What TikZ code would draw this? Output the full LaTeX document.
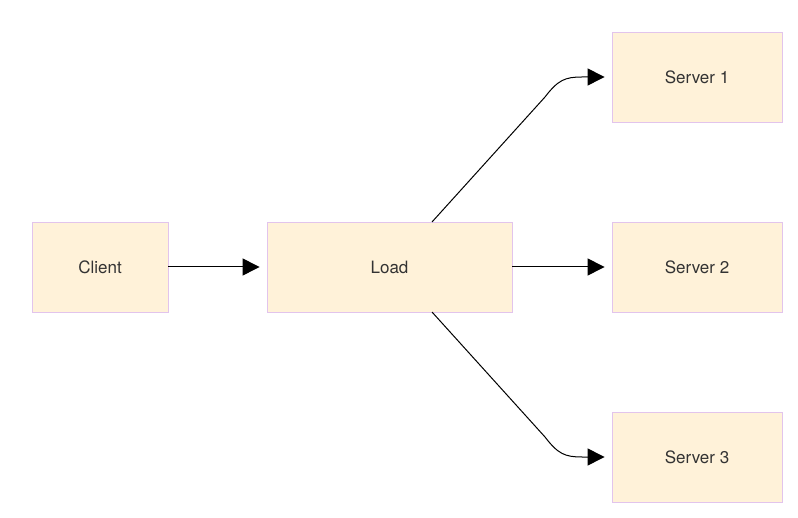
\documentclass[tikz,border=0pt]{standalone}
\usepackage{fontspec}
\setmainfont{TeX Gyre Heros}
\usetikzlibrary{arrows.meta}
\definecolor{boxfill}{HTML}{FFF2D9}
\definecolor{boxline}{HTML}{E2C4EC}
\definecolor{txt}{HTML}{333333}
\begin{document}
\begin{tikzpicture}
            [x=1pt,y=-1pt,thick,
             box/.style={draw=boxline,fill=boxfill,line width=0.8pt,minimum height=90pt,
                         text=txt,font=\fontsize{17}{20}\selectfont,inner sep=0pt},
             arr/.style={line width=1pt,-{Triangle[length=17pt,width=17pt]},shorten >=7pt}]
            \useasboundingbox (0,0) rectangle (798,518);
            \node[box,minimum width=136pt] (client) at (100,267) {Client};
            \node[box,minimum width=245pt] (load) at (389.5,267) {Load};
            \node[box,minimum width=170pt] (s1) at (697,77) {Server 1};
            \node[box,minimum width=170pt] (s2) at (697,267) {Server 2};
            \node[box,minimum width=170pt] (s3) at (697,457) {Server 3};

            \coordinate (lt) at (432,222);
            \coordinate (lb) at (432,312);

            \draw[arr] (client) -- (load);
            \draw[arr] (load) -- (s2);
            \draw[arr] (lt) -- (545,97) .. controls (558,80) and (565,77) .. (582,77) -- (s1.west);
            \draw[arr] (lb) -- (545,437) .. controls (558,454) and (565,457) .. (582,457) -- (s3.west);
        \end{tikzpicture}
\end{document}
